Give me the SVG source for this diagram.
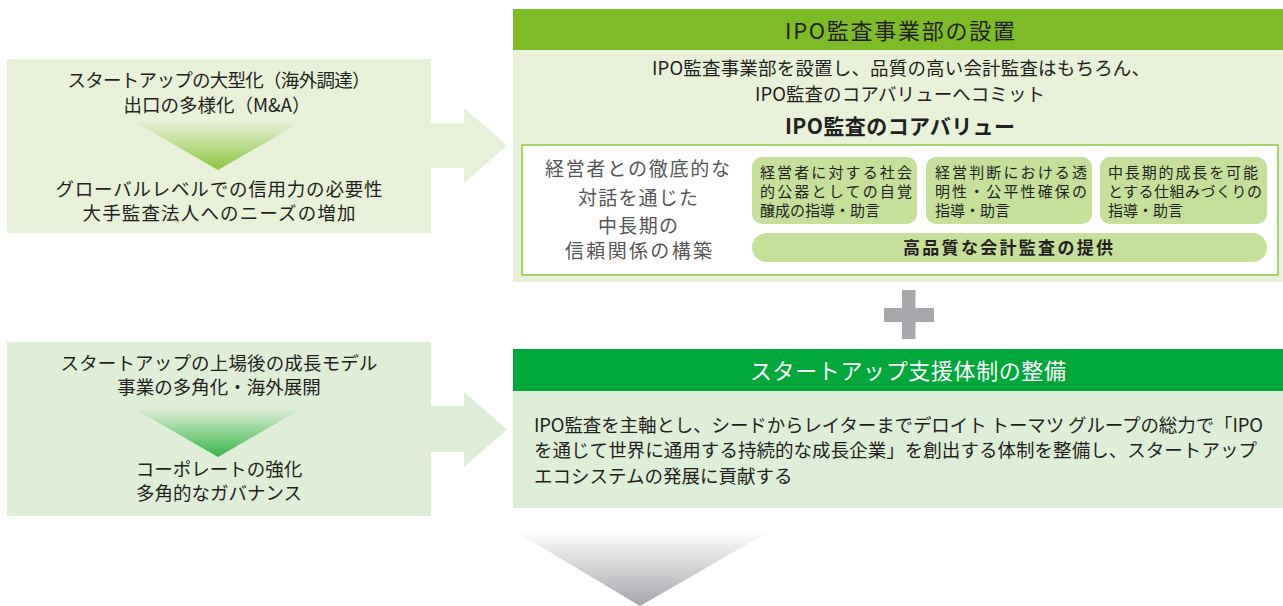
<svg xmlns="http://www.w3.org/2000/svg" width="1283" height="606" viewBox="0 0 1283 606">
<style>
text{font-family:'Noto Sans CJK JP','Noto Sans',sans-serif;fill:#231f20}
.b18{font-size:18.5px}
.mid{text-anchor:middle}
.title{font-size:22px;text-anchor:middle}
.gray{fill:#555}
.sm{font-size:15px}
.bold{font-weight:bold}
.wt{fill:#fff}
.lb1{fill:#e9f1da}
.lb2{fill:#e0eed9}
.chip{fill:#c6df9b}
</style>
<defs>
<linearGradient id="g1" x1="0" y1="0" x2="0" y2="1">
<stop offset="0" stop-color="#e9f1da"/>
<stop offset="1" stop-color="#8cc63f"/>
</linearGradient>
<linearGradient id="g2" x1="0" y1="0" x2="0" y2="1">
<stop offset="0" stop-color="#e0eed9"/>
<stop offset="1" stop-color="#39b54a"/>
</linearGradient>
<linearGradient id="g3" x1="0" y1="0" x2="0" y2="1">
<stop offset="0" stop-color="#ffffff"/>
<stop offset="1" stop-color="#a5a6aa"/>
</linearGradient>
</defs>
<rect width="1283" height="606" fill="#fff"/>

<g id="connectors">
<polygon class="lb1" points="431,123 464,123 464,108 507,145.5 464,183 464,168 431,168"/>
<polygon class="lb2" points="431,406 464,406 464,392 507,429.5 464,467 464,452 431,452"/>
<polygon fill="url(#g3)" points="513,530 772,530 640,606"/>
</g>

<g id="left-top">
<rect class="lb1" x="7" y="59" width="424" height="174"/>
<polygon fill="url(#g1)" points="133,121 303,121 218,170"/>
<text class="b18 mid" x="219" y="87" textLength="303">スタートアップの大型化（海外調達）</text>
<text class="b18 mid" x="217" y="112">出口の多様化（M&amp;A）</text>
<text class="b18 mid" x="219" y="196" textLength="327">グローバルレベルでの信用力の必要性</text>
<text class="b18 mid" x="219" y="220" textLength="273">大手監査法人へのニーズの増加</text>
</g>

<g id="left-bottom">
<rect class="lb2" x="7" y="342" width="424" height="174"/>
<polygon fill="url(#g2)" points="133,408 303,408 218,457"/>
<text class="b18 mid" x="219" y="370" textLength="317">スタートアップの上場後の成長モデル</text>
<text class="b18 mid" x="219" y="394">事業の多角化・海外展開</text>
<text class="b18 mid" x="219" y="476">コーポレートの強化</text>
<text class="b18 mid" x="219" y="500">多角的なガバナンス</text>
</g>

<g id="panel-ipo">
<rect x="513" y="50" width="770" height="232" fill="#e9f1da"/>
<rect x="513" y="9" width="770" height="41" fill="#7ebc27"/>
<text class="title" x="900" y="39" textLength="230">IPO監査事業部の設置</text>
<text class="b18 mid" x="901" y="75" textLength="498">IPO監査事業部を設置し、品質の高い会計監査はもちろん、</text>
<text class="b18 mid" x="900" y="101" textLength="290">IPO監査のコアバリューへコミット</text>
<text class="mid bold" x="900" y="134" font-size="21" textLength="230">IPO監査のコアバリュー</text>
</g>

<g id="core-values">
<rect x="522" y="145" width="756" height="130" fill="#fff" stroke="#a3d36b" stroke-width="2"/>
<text class="gray mid" font-size="19" x="637.5" y="176" textLength="185">経営者との徹底的な</text>
<text class="gray mid" font-size="19" x="638" y="205" textLength="120">対話を通じた</text>
<text class="gray mid" font-size="19" x="638" y="233" textLength="80">中長期の</text>
<text class="gray mid" font-size="19" x="638.5" y="258" textLength="147">信頼関係の構築</text>
<g id="value-1">
<rect class="chip" x="752" y="157" width="165" height="67" rx="10"/>
<text class="sm" x="760" y="178" textLength="152">経営者に対する社会</text>
<text class="sm" x="760" y="197" textLength="152">的公器としての自覚</text>
<text class="sm" x="760" y="216">醸成の指導・助言</text>
</g>
<g id="value-2">
<rect class="chip" x="926" y="157" width="166" height="67" rx="10"/>
<text class="sm" x="935" y="178" textLength="152">経営判断における透</text>
<text class="sm" x="935" y="197" textLength="152">明性・公平性確保の</text>
<text class="sm" x="935" y="216">指導・助言</text>
</g>
<g id="value-3">
<rect class="chip" x="1100" y="157" width="167" height="67" rx="10"/>
<text class="sm" x="1108" y="178" textLength="150">中長期的成長を可能</text>
<text class="sm" x="1108" y="197" textLength="154">とする仕組みづくりの</text>
<text class="sm" x="1108" y="216">指導・助言</text>
</g>
<g id="value-4">
<rect class="chip" x="752" y="233" width="515" height="29" rx="14.5"/>
<text class="bold mid" font-size="17" x="1008" y="254" textLength="210">高品質な会計監査の提供</text>
</g>
</g>

<g id="plus" fill="#a6a8ab">
<rect x="902" y="290" width="13.5" height="49"/>
<rect x="884" y="308" width="50" height="14"/>
</g>

<g id="panel-support">
<rect x="513" y="391" width="770" height="117" fill="#dfeed9"/>
<rect x="513" y="349" width="770" height="42" fill="#00a83c"/>
<text class="title wt" x="908" y="379" textLength="316">スタートアップ支援体制の整備</text>
<text class="b18" x="534" y="432" textLength="729">IPO監査を主軸とし、シードからレイターまでデロイト トーマツ グループの総力で「IPO</text>
<text class="b18" x="534" y="457" textLength="723">を通じて世界に通用する持続的な成長企業」を創出する体制を整備し、スタートアップ</text>
<text class="b18" x="534" y="483">エコシステムの発展に貢献する</text>
</g>
</svg>
